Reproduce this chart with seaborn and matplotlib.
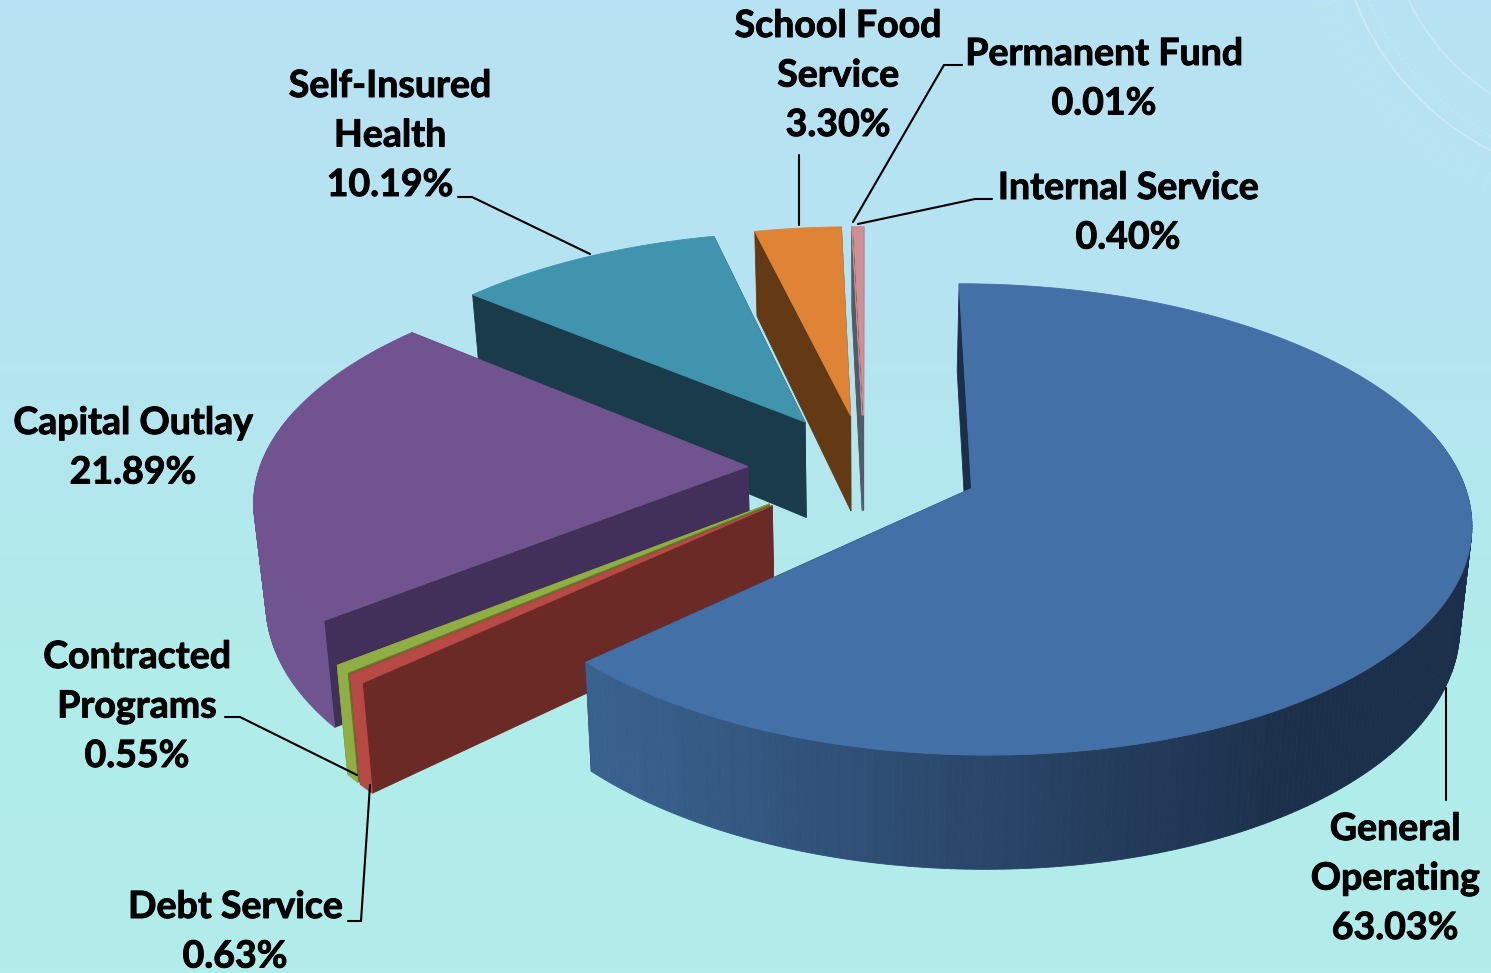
#!/usr/bin/env python3
"""Exploded 3D style pie of fund shares, drawn as projected polygons"""

import numpy as np
import matplotlib
matplotlib.use('Agg')
import matplotlib.pyplot as plt
import matplotlib.patheffects as pe
import seaborn as sns

# data, clockwise from 12 o'clock
funds = ['General Operating', 'Debt Service', 'Contracted Programs', 'Capital Outlay',
         'Self-Insured Health', 'School Food Service', 'Permanent Fund', 'Internal Service']
shares = [63.03, 0.63, 0.55, 21.89, 10.19, 3.30, 0.01, 0.40]

top_colors = ['#4470a8', '#b84a45', '#8fae44', '#71548f', '#4094ad', '#df8336', '#c08a90', '#cf8f93']
edge_colors = ['#1c2f4a', '#6b2a26', '#5f7a2c', '#43305a', '#1a3c4a', '#643a15', '#555a66', '#555a66']
rim_left = ['#3a628f', '#b84a45', '#8fae44', '#6f5490', '#1a3c4a', '#643a15', '#555a66', '#555a66']
explode = [0.235, 0.25, 0.25, 0.24, 0.24, 0.235, 0.235, 0.235]

label_lines = [['General', 'Operating'], ['Debt Service'], ['Contracted', 'Programs'], ['Capital Outlay'],
               ['Self-Insured', 'Health'], ['School Food', 'Service'], ['Permanent Fund'], ['Internal Service']]
label_xy = [(1395, 829), (235, 907), (137, 657), (133, 423), (390, 86), (838, 26), (1104, 54), (1128, 188)]

leaders = [[(1446, 688), (1446, 800)],
           [(348, 921), (361, 921), (370, 785)],
           [(225, 717), (240, 717), (357, 775)],
           [],
           [(458, 197), (472, 197), (590, 254)],
           [(799, 155), (799, 225)],
           [(962, 65), (944, 65), (853, 222)],
           [(992, 199), (975, 199), (858, 224)]]

# projection of the pie, in pixels
X0, Y0 = 865, 467
R, H = 488, 226
K = 0.13
DEPTH = 98
SHRINK = 0.98


def project(u, v, lower=False):
    w = 1 + K * v
    x = X0 + R * u / w
    y = Y0 - H * v / w
    if lower:
        x = X0 + (x - X0) * SHRINK
        y = y + DEPTH / w
    return x, y


def slice_outline(start, end, offset, n=240):
    """Rim and apex of one slice, angles in radians clockwise from top"""
    mid = (start + end) / 2
    cu, cv = offset * np.sin(mid), offset * np.cos(mid)
    a = np.linspace(start, end, max(2, int(n * (end - start) / np.pi) + 2))
    return cu, cv, cu + np.sin(a), cv + np.cos(a)


def fill(ax, xs, ys, color, z):
    ax.fill(xs, ys, color=color, lw=0.6, zorder=z)


def draw_slice(ax, i, start, end, z):
    cu, cv, ru, rv = slice_outline(start, end, explode[i])
    dark = edge_colors[i]

    # flat walls along the two straight edges
    for eu, ev in [(ru[0], rv[0]), (ru[-1], rv[-1])]:
        su = np.array([cu, eu])
        sv = np.array([cv, ev])
        tx, ty = project(su, sv)
        bx, by = project(su, sv, lower=True)
        fill(ax, np.r_[tx, bx[::-1]], np.r_[ty, by[::-1]], dark, z)

    # curved wall, shaded from left to right
    tx, ty = project(ru, rv)
    bx, by = project(ru, rv, lower=True)
    shades = sns.blend_palette([rim_left[i], dark], 64)
    for k in range(len(ru) - 1):
        if rv[k] - cv > 0.25 and rv[k + 1] - cv > 0.25:
            continue
        t = np.clip((tx[k] - 595) / (1300 - 595), 0, 1)
        fill(ax, [tx[k], tx[k + 1], bx[k + 1], bx[k]], [ty[k], ty[k + 1], by[k + 1], by[k]],
             shades[int(t * 63)], z + 0.1)

    # top face
    ax_x, ax_y = project(cu, cv)
    fill(ax, np.r_[ax_x, tx], np.r_[ax_y, ty], top_colors[i], z + 0.2)


def draw_background(ax):
    grad = sns.blend_palette(['#b7e2f3', '#b5e4f1', '#b0ecea', '#b2edeb'], 256)
    ax.imshow(np.array(grad)[:, None, :], extent=(0, 1491, 973, 0), aspect='auto', zorder=0)

    # faint dial in the corner
    cx, cy = 1619, -102
    t = np.linspace(0, np.pi, 300)
    for radius, style, alpha in [(234, '-', 0.25), (283, '-', 0.28), (270, ':', 0.15)]:
        ax.plot(cx + radius * np.cos(t), cy + radius * np.sin(t), ls=style, color='white',
                lw=1.4, alpha=alpha, zorder=0.5)
    for a in np.radians(np.arange(100, 170, 3.0)):
        ax.plot([cx + 300 * np.cos(a), cx + 322 * np.cos(a)], [cy + 300 * np.sin(a), cy + 322 * np.sin(a)],
                color='white', lw=1.0, alpha=0.08, zorder=0.5)


def main():
    sns.set_theme(style='white')
    plt.rcParams['font.family'] = ['Lato', 'DejaVu Sans']

    fig = plt.figure(figsize=(14.91, 9.73), dpi=100)
    ax = fig.add_axes([0, 0, 1, 1])
    draw_background(ax)

    edges = np.radians(np.r_[0, np.cumsum(shares)] * 3.6)

    # painter's order: back slices first, General Operating last
    order = [7, 6, 5, 4, 3, 2, 1, 0]
    for z, i in enumerate(order):
        draw_slice(ax, i, edges[i], edges[i + 1], 2 + z)

    heavier = [pe.withStroke(linewidth=0.7, foreground='black')]
    for i, lines in enumerate(label_lines):
        x, y = label_xy[i]
        for n, line in enumerate(lines + [f'{shares[i]:.2f}%']):
            ax.text(x, y + n * 49.5, line, ha='center', va='center', fontsize=27,
                    fontweight='bold', color='black', zorder=20, path_effects=heavier)
        if leaders[i]:
            px, py = zip(*leaders[i])
            ax.plot(px, py, color='black', lw=1.5, zorder=19, solid_joinstyle='miter')

    ax.set_xlim(0, 1491)
    ax.set_ylim(973, 0)
    ax.axis('off')
    fig.savefig('out.png', dpi=100)


if __name__ == "__main__":
    main()
